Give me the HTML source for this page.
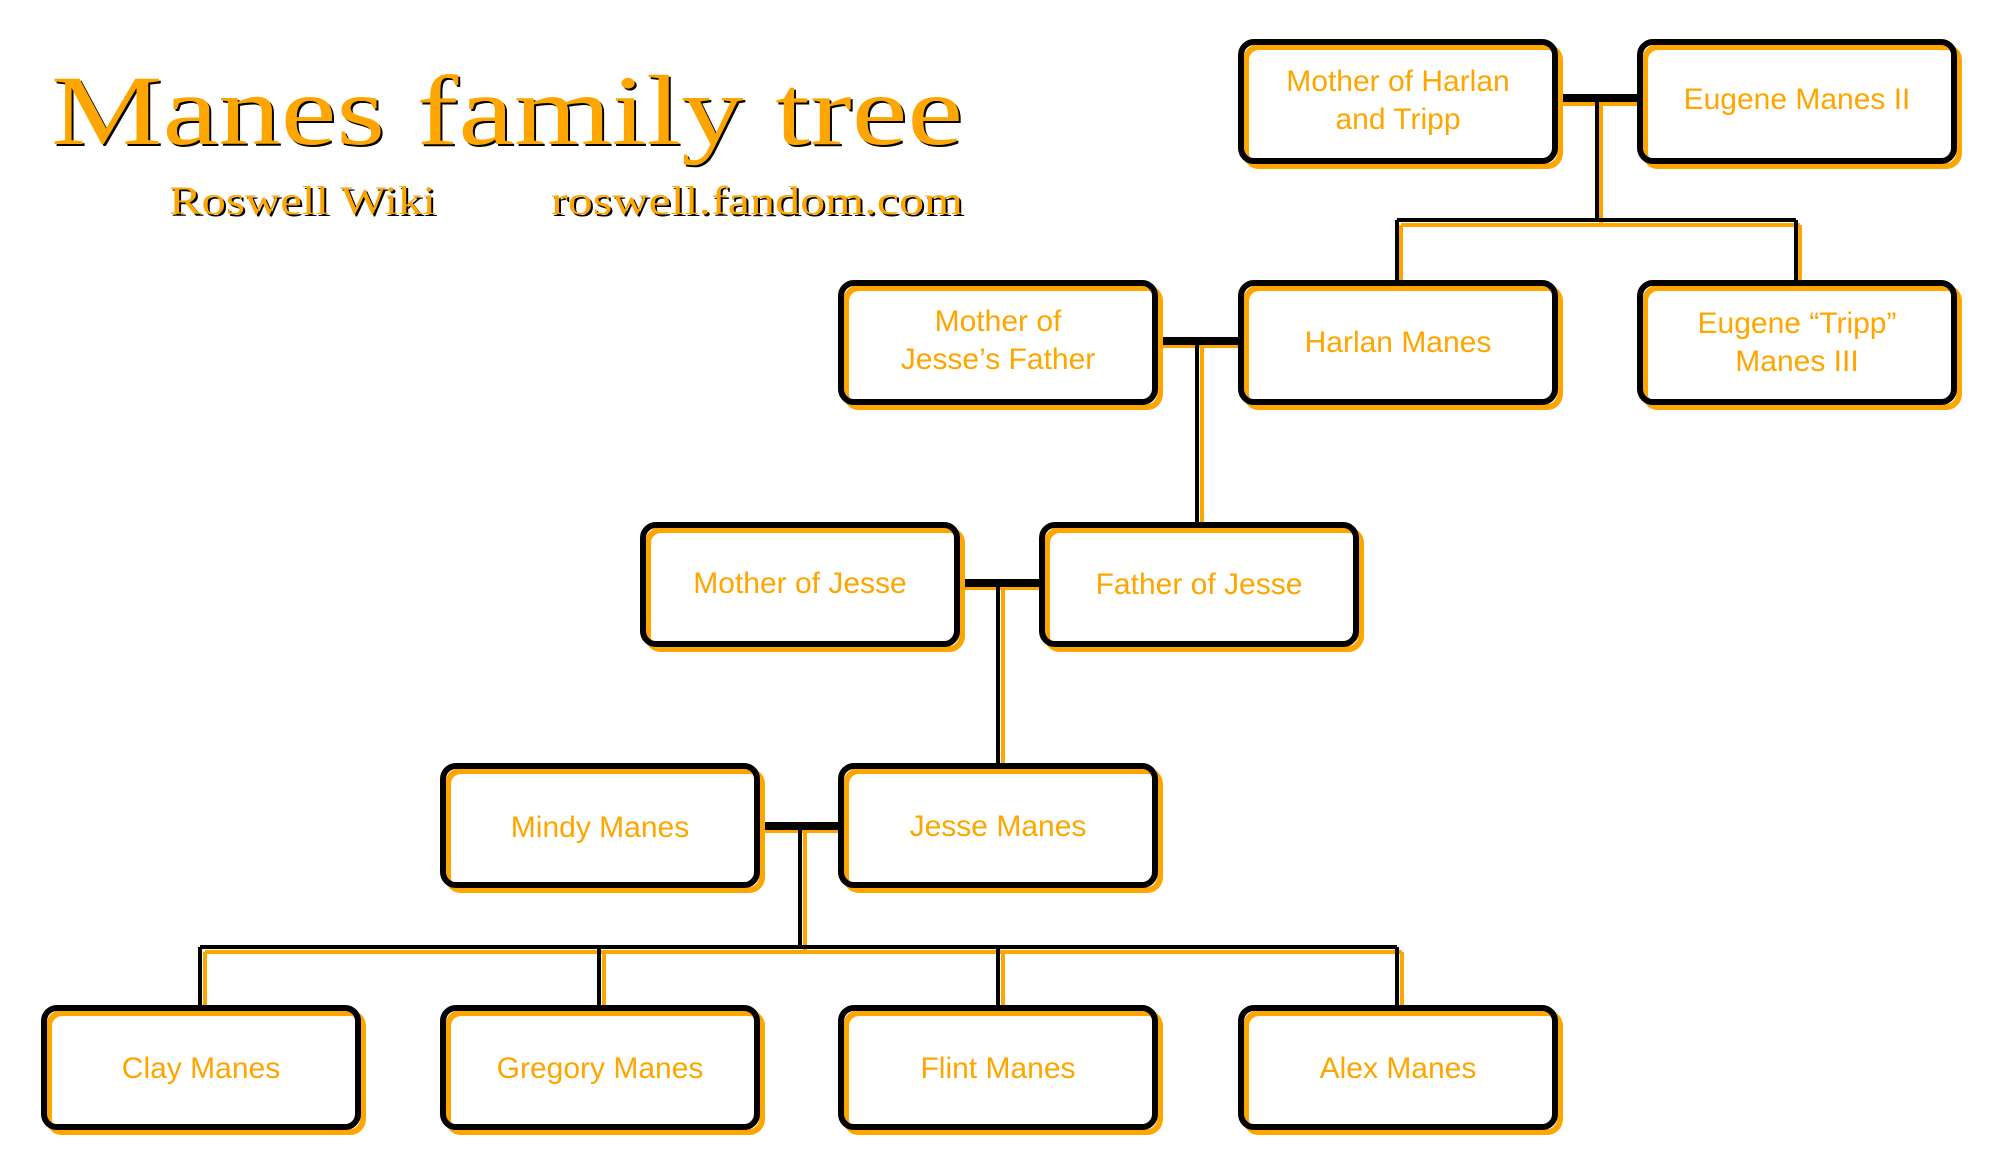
<!DOCTYPE html>
<html><head><meta charset="utf-8"><style>html,body{margin:0;padding:0;background:#fff}svg{display:block}</style></head>
<body>
<svg width="2000" height="1167" viewBox="0 0 2000 1167" xmlns="http://www.w3.org/2000/svg">
<g font-family="Liberation Serif, serif">
<text x="53" y="146" font-size="100" fill="#000" textLength="912" lengthAdjust="spacingAndGlyphs">Manes family tree</text>
<text x="51" y="144" font-size="100" fill="#FFA500" textLength="912" lengthAdjust="spacingAndGlyphs">Manes family tree</text>
<text x="171" y="216" font-size="40" fill="#000" textLength="267" lengthAdjust="spacingAndGlyphs">Roswell Wiki</text>
<text x="169" y="214" font-size="40" fill="#FFA500" textLength="267" lengthAdjust="spacingAndGlyphs">Roswell Wiki</text>
<text x="553" y="216" font-size="40" fill="#000" textLength="412" lengthAdjust="spacingAndGlyphs">roswell.fandom.com</text>
<text x="551" y="214" font-size="40" fill="#FFA500" textLength="412" lengthAdjust="spacingAndGlyphs">roswell.fandom.com</text>
</g>
<g stroke="#FFA500" fill="none" stroke-width="4">
<path d="M1558 104H1637 M1601 104V225 M1401 225H1800 M1401 225V282 M1800 225V282"/>
<path d="M1161 346H1238 M1202 346V522"/>
<path d="M962 588H1039 M1003 588V763"/>
<path d="M763 831H838 M805 831V952 M205 952H1402 M205 952V1005 M604 952V1005 M1003 952V1005 M1402 952V1005"/>
</g>
<g stroke="#000" fill="none" stroke-width="4">
<path d="M1597 98V220 M1397 220H1796 M1397 220V280 M1796 220V280"/>
<path d="M1197 341V522"/>
<path d="M998 583V763"/>
<path d="M800 826V947 M200 947H1397 M200 947V1005 M599 947V1005 M998 947V1005 M1397 947V1005"/>
</g>
<g stroke="#000" fill="none" stroke-width="8">
<path d="M1556 98H1640 M1155 341H1241 M958 583H1042 M755 826H841"/>
</g>
<defs>
<g id="b">
<rect x="3" y="3" width="314" height="119" rx="13" fill="#fff"/>
<rect x="8" y="8" width="314" height="119" rx="13" fill="none" stroke="#FFA500" stroke-width="6"/>
<rect x="3" y="3" width="314" height="119" rx="13" fill="none" stroke="#000" stroke-width="6"/>
</g>
</defs>
<use href="#b" x="1238" y="39"/><use href="#b" x="1637" y="39"/>
<use href="#b" x="838" y="280"/><use href="#b" x="1238" y="280"/><use href="#b" x="1637" y="280"/>
<use href="#b" x="640" y="522"/><use href="#b" x="1039" y="522"/>
<use href="#b" x="440" y="763"/><use href="#b" x="838" y="763"/>
<use href="#b" x="41" y="1005"/><use href="#b" x="440" y="1005"/><use href="#b" x="838" y="1005"/><use href="#b" x="1238" y="1005"/>
<g font-family="Liberation Sans, Arial, sans-serif" font-size="30" fill="#FFA500" text-anchor="middle">
<text x="1398" y="91">Mother of Harlan</text><text x="1398" y="129">and Tripp</text>
<text x="1797" y="109">Eugene Manes II</text>
<text x="998" y="331">Mother of</text><text x="998" y="369">Jesse’s Father</text>
<text x="1398" y="352">Harlan Manes</text>
<text x="1797" y="333">Eugene “Tripp”</text><text x="1797" y="371">Manes III</text>
<text x="800" y="593">Mother of Jesse</text>
<text x="1199" y="594">Father of Jesse</text>
<text x="600" y="837">Mindy Manes</text>
<text x="998" y="836">Jesse Manes</text>
<text x="201" y="1078">Clay Manes</text>
<text x="600" y="1078">Gregory Manes</text>
<text x="998" y="1078">Flint Manes</text>
<text x="1398" y="1078">Alex Manes</text>
</g>
</svg>
</body></html>
